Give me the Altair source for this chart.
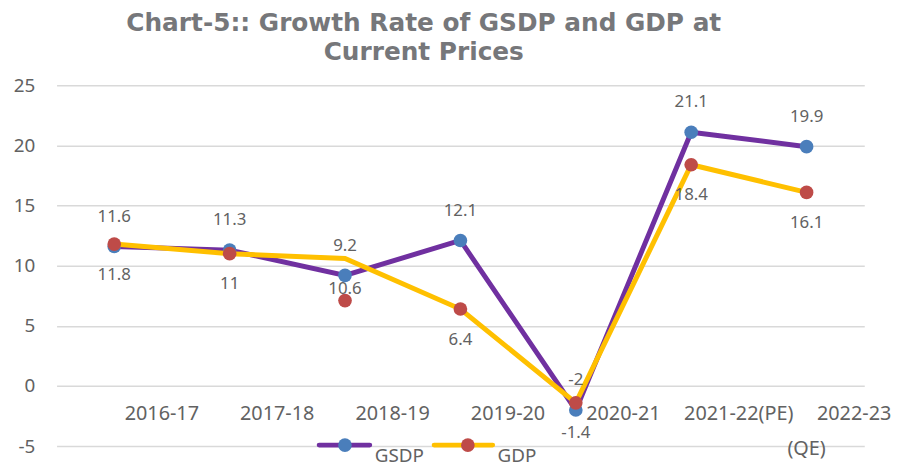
import altair as alt
import pandas as pd

categories = ["2016-17", "2017-18", "2018-19", "2019-20", "2020-21", "2021-22(PE)", "2022-23"]
gsdp = [11.6, 11.3, 9.2, 12.1, -2.0, 21.1, 19.9]
gdp_line = [11.8, 11.0, 10.6, 6.4, -1.4, 18.4, 16.1]
gdp_marker = [11.8, 11.0, 7.1, 6.4, -1.4, 18.4, 16.1]
gsdp_labels = ["11.6", "11.3", "9.2", "12.1", "-2", "21.1", "19.9"]
gdp_labels = ["11.8", "11", "10.6", "6.4", "-1.4", "18.4", "16.1"]
y_ticks = [-5, 0, 5, 10, 15, 20, 25]
qe_suffix = ["(QE)"]

PURPLE = "#7030A0"
YELLOW = "#FFC000"
BLUE = "#4A7EBB"
RED = "#BE4B48"
TEXT = "#626262"
MSIZE = 190

df = pd.DataFrame({
    "cat": categories,
    "gsdp": gsdp,
    "gdp_line": gdp_line,
    "gdp_marker": gdp_marker,
    "gsdp_lab": gsdp_labels,
    "gdp_lab": gdp_labels,
})

xs = alt.Scale(type="point", padding=0.5, domain=categories)
ys = alt.Scale(domain=[-5, 25], nice=False, zero=False)
X = alt.X("cat:N", scale=xs, axis=None, sort=categories)
YAX = alt.Axis(values=y_ticks, domain=False, ticks=False, labelPadding=22,
               labelFontSize=19, labelColor=TEXT, labelFont="Noto Sans",
               labelExpr="'' + datum.value",
               gridColor="#D9D9D9", gridWidth=1.5, title=None)


def Y(field):
    return alt.Y(field, type="quantitative", scale=ys, title=None, axis=YAX)


base = alt.Chart(df)

gsdp_l = base.mark_line(color=PURPLE, strokeWidth=5).encode(x=X, y=Y("gsdp"))
gsdp_p = base.mark_circle(color=BLUE, size=MSIZE, opacity=1).encode(x=X, y=Y("gsdp"))
gdp_l = base.mark_line(color=YELLOW, strokeWidth=5).encode(x=X, y=Y("gdp_line"))
gdp_p = base.mark_circle(color=RED, size=MSIZE, opacity=1).encode(x=X, y=Y("gdp_marker"))

gsdp_t = base.mark_text(dy=-30, fontSize=17, color=TEXT, font="Noto Sans").encode(
    x=X, y=Y("gsdp"), text="gsdp_lab:N")
gdp_t = base.mark_text(dy=31, fontSize=17, color=TEXT, font="Noto Sans").encode(
    x=X, y=Y("gdp_line"), text="gdp_lab:N")

cat_t = base.mark_text(dx=48, fontSize=20, color=TEXT, font="Noto Sans", baseline="middle").encode(
    x=X, y=alt.value(332), text="cat:N")
qe_df = pd.DataFrame({"cat": [categories[-1]], "lab": qe_suffix})
qe_t = alt.Chart(qe_df).mark_text(fontSize=20, color=TEXT, font="Noto Sans", baseline="middle").encode(
    x=X, y=alt.value(367), text="lab:N")

legend_layers = []
for name, lc, mc, x1, x2, xc, xt in [("GSDP", PURPLE, BLUE, 265, 316, 291, 321),
                                      ("GDP", YELLOW, RED, 381, 440, 415, 445)]:
    d = alt.Chart(pd.DataFrame({"series": [name]}))
    legend_layers.append(d.mark_rule(color=lc, strokeWidth=5, strokeCap="round").encode(
        x=alt.value(x1), x2=alt.value(x2), y=alt.value(363)))
    legend_layers.append(d.mark_circle(color=mc, size=MSIZE, opacity=1).encode(
        x=alt.value(xc), y=alt.value(363)))
    legend_layers.append(d.mark_text(align="left", baseline="alphabetic", fontSize=19,
                                     color=TEXT, font="Noto Sans").encode(
        x=alt.value(xt), y=alt.value(380), text="series:N"))

chart = alt.layer(gsdp_l, gsdp_p, gdp_l, gdp_p, gsdp_t, gdp_t, cat_t, qe_t, *legend_layers).properties(
    width=815,
    height=364,
    background="white",
    title=alt.TitleParams(
        ["Chart-5:: Growth Rate of GSDP and GDP at", "Current Prices"],
        font="DejaVu Sans", fontSize=25, fontWeight="bold", color="#76777A",
        anchor="middle", dx=-37, offset=12, lineHeight=29,
    ),
    autosize=alt.AutoSizeParams(type="none"),
    padding={"left": 49, "top": 76, "right": 30, "bottom": 15},
).configure_view(stroke=None)

chart.save("out.html", embed_options={"renderer": "svg", "actions": False})
